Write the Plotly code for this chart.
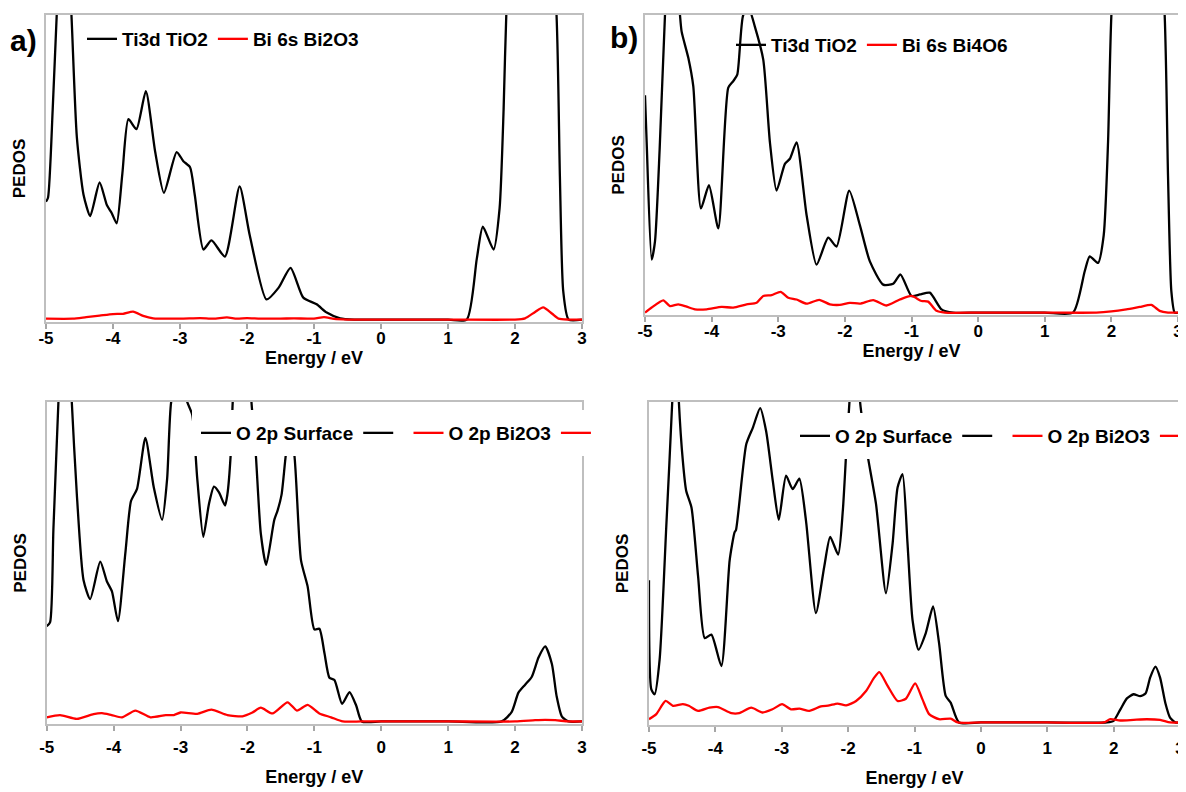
import plotly.graph_objects as go

# ---------------- data (normalised PEDOS) ----------------
TICK_VALS = [-5, -4, -3, -2, -1, 0, 1, 2, 3]
TICK_TEXT = ["-5", "-4", "-3", "-2", "-1", "0", "1", "2", "3"]

# panel a) top : Ti3d TiO2 / Bi 6s Bi2O3
a_ti_E = [-5.0, -4.97, -4.9, -4.84, -4.73, -4.62, -4.54, -4.44, -4.34, -4.2, -4.09, -4.02,
          -3.945, -3.86, -3.77, -3.65, -3.51, -3.37, -3.24, -3.05, -2.95, -2.85, -2.78, -2.65,
          -2.53, -2.33, -2.11, -1.96, -1.71, -1.53, -1.35, -1.16, -0.96, -0.81, -0.61, -0.4,
          0.0, 1.0, 1.28, 1.43, 1.52, 1.68, 1.77, 1.83, 1.87, 2.2, 2.62, 2.67, 2.72, 2.8, 3.0]
a_ti_v = [0.387, 0.40, 0.69, 1.0, 1.5, 1.0, 0.60, 0.41, 0.34, 0.45, 0.375, 0.35,
          0.316, 0.48, 0.658, 0.625, 0.75, 0.55, 0.416, 0.55, 0.52, 0.50, 0.41, 0.23,
          0.26, 0.207, 0.437, 0.278, 0.066, 0.104, 0.17, 0.072, 0.05, 0.023, 0.004, 0.0,
          0.0, 0.0, 0.0, 0.20, 0.305, 0.23, 0.365, 0.69, 1.0, 2.5, 1.0, 0.47, 0.093, 0.0, 0.0]

a_bi_E = [-5.0, -4.6, -4.4, -4.2, -4.0, -3.85, -3.7, -3.55, -3.4, -3.0, -2.7, -2.5, -2.3,
          -2.15, -2.0, -1.8, -1.5, -1.3, -1.0, -0.85, -0.7, -0.5, 0.0, 1.0, 2.0, 2.15, 2.3,
          2.42, 2.55, 2.65, 2.8, 3.0]
a_bi_v = [0.003, 0.003, 0.008, 0.013, 0.018, 0.019, 0.026, 0.012, 0.004, 0.003, 0.005, 0.003,
          0.007, 0.003, 0.005, 0.003, 0.003, 0.004, 0.003, 0.008, 0.002, 0.0, 0.0, 0.0, 0.0,
          0.004, 0.025, 0.04, 0.02, 0.003, 0.0, 0.0]

# panel b) top : Ti3d TiO2 / Bi 6s Bi4O6
b_ti_E = [-5.0, -4.975, -4.9, -4.85, -4.78, -4.70, -4.6, -4.475, -4.45, -4.35, -4.275, -4.16,
          -4.04, -3.90, -3.75, -3.675, -3.615, -3.525, -3.44, -3.35, -3.225, -3.125, -3.025,
          -2.90, -2.825, -2.725, -2.575, -2.425, -2.25, -2.125, -1.935, -1.775, -1.625, -1.425,
          -1.275, -1.165, -1.0, -0.875, -0.725, -0.55, -0.375, 0.0, 1.0, 1.425, 1.60, 1.675,
          1.80, 1.885, 1.95, 2.0, 2.4, 2.80, 2.85, 2.90, 2.95, 3.0]
b_ti_v = [0.73, 0.572, 0.178, 0.239, 0.55, 1.0, 1.4, 1.0, 0.944, 0.856, 0.76, 0.35,
          0.428, 0.283, 0.756, 0.778, 0.80, 1.0, 1.02, 0.96, 0.85, 0.572, 0.41,
          0.50, 0.517, 0.572, 0.328, 0.161, 0.252, 0.222, 0.41, 0.294, 0.172, 0.094,
          0.097, 0.128, 0.056, 0.061, 0.067, 0.011, 0.0, 0.0, 0.0, 0.0, 0.139, 0.189,
          0.167, 0.26, 0.572, 1.0, 2.5, 1.0, 0.46, 0.072, 0.0, 0.0]

b_bi_E = [-5.0, -4.9, -4.725, -4.625, -4.5, -4.375, -4.25, -4.075, -3.85, -3.675, -3.475,
          -3.325, -3.225, -3.10, -2.965, -2.85, -2.725, -2.575, -2.385, -2.225, -2.075, -1.925,
          -1.775, -1.575, -1.375, -1.175, -1.0, -0.85, -0.75, -0.625, -0.5, 0.0, 1.0, 1.775,
          2.0, 2.225, 2.425, 2.6, 2.725, 2.85, 3.0]
b_bi_v = [0.0, 0.017, 0.041, 0.022, 0.028, 0.02, 0.011, 0.011, 0.019, 0.017, 0.028,
          0.033, 0.056, 0.059, 0.07, 0.05, 0.044, 0.03, 0.043, 0.028, 0.026, 0.033,
          0.03, 0.042, 0.024, 0.044, 0.056, 0.039, 0.037, 0.006, 0.0, 0.0, 0.0, 0.0,
          0.004, 0.011, 0.019, 0.026, 0.006, 0.0, 0.0]

# panel a) bottom : O 2p Surface / O 2p Bi2O3
c_os_E = [-5.0, -4.95, -4.9, -4.825, -4.725, -4.625, -4.55, -4.45, -4.35, -4.20, -4.10, -4.025,
          -3.935, -3.825, -3.74, -3.65, -3.525, -3.40, -3.275, -3.20, -3.14, -3.02, -2.90,
          -2.825, -2.75, -2.66, -2.575, -2.50, -2.425, -2.335, -2.30, -2.25, -2.22, -2.08,
          -1.94, -1.875, -1.80, -1.72, -1.60, -1.55, -1.49, -1.425, -1.37, -1.30, -1.20, -1.10,
          -1.00, -0.925, -0.85, -0.775, -0.70, -0.585, -0.475, -0.375, -0.29, 0.0, 1.0, 1.8,
          1.95, 2.05, 2.15, 2.25, 2.35, 2.45, 2.55, 2.62, 2.7, 2.8, 3.0]
c_os_v = [0.298, 0.31, 0.6, 1.0, 1.5, 1.0, 0.712, 0.443, 0.383, 0.50, 0.438, 0.407,
          0.314, 0.526, 0.69, 0.728, 0.888, 0.733, 0.631, 0.76, 1.0, 1.1, 1.0,
          0.96, 0.76, 0.578, 0.681, 0.735, 0.717, 0.676, 0.71, 0.836, 1.0, 1.5,
          1.0, 0.836, 0.588, 0.49, 0.63, 0.66, 0.71, 0.836, 0.9, 0.836, 0.505, 0.422,
          0.288, 0.29, 0.215, 0.137, 0.13, 0.055, 0.092, 0.05, 0.0, 0.0, 0.0, 0.0,
          0.03, 0.09, 0.115, 0.14, 0.2, 0.235, 0.18, 0.08, 0.015, 0.0, 0.0]

c_ob_E = [-5.0, -4.8, -4.55, -4.3, -4.175, -4.03, -3.875, -3.675, -3.45, -3.22, -3.1, -3.0,
          -2.75, -2.54, -2.3, -2.075, -1.925, -1.80, -1.625, -1.40, -1.26, -1.10, -0.925,
          -0.75, -0.575, -0.3, 0.0, 1.0, 2.0, 2.3, 2.45, 2.6, 2.8, 3.0]
c_ob_v = [0.013, 0.02, 0.008, 0.023, 0.026, 0.02, 0.013, 0.034, 0.013, 0.02, 0.02, 0.028,
          0.024, 0.037, 0.02, 0.016, 0.028, 0.043, 0.025, 0.06, 0.034, 0.052, 0.025,
          0.013, 0.0, 0.0, 0.0, 0.0, 0.0, 0.004, 0.005, 0.004, 0.0, 0.0]

# panel b) bottom : O 2p Surface / O 2p Bi2O3
d_os_E = [-5.0, -4.965, -4.915, -4.84, -4.74, -4.65, -4.60, -4.55, -4.49, -4.44, -4.36, -4.26,
          -4.16, -4.06, -3.91, -3.785, -3.71, -3.69, -3.535, -3.435, -3.325, -3.235, -3.135,
          -3.045, -2.935, -2.835, -2.735, -2.635, -2.485, -2.36, -2.27, -2.15, -2.08, -2.03,
          -1.98, -1.9, -1.82, -1.71, -1.58, -1.43, -1.33, -1.255, -1.18, -1.105, -1.03, -0.94,
          -0.83, -0.72, -0.63, -0.53, -0.455, -0.33, 0.0, 1.0, 1.9, 2.0, 2.1, 2.2, 2.3, 2.4,
          2.48, 2.55, 2.63, 2.7, 2.78, 2.85, 2.93, 3.0]
d_os_v = [0.444, 0.103, 0.088, 0.196, 0.61, 1.0, 1.3, 1.0, 0.816, 0.723, 0.671, 0.455,
          0.263, 0.274, 0.176, 0.506, 0.594, 0.60, 0.868, 0.92, 0.981, 0.909, 0.754,
          0.632, 0.77, 0.728, 0.761, 0.63, 0.341, 0.486, 0.579, 0.524, 0.661, 0.838,
          1.0, 1.3, 1.0, 0.838, 0.682, 0.403, 0.558, 0.733, 0.775, 0.558, 0.32, 0.227,
          0.279, 0.362, 0.248, 0.083, 0.062, 0.0, 0.0, 0.0, 0.0, 0.005, 0.04, 0.075, 0.088, 0.082,
          0.09, 0.14, 0.174, 0.14, 0.06, 0.015, 0.0, 0.0]

d_ob_E = [-5.0, -4.89, -4.75, -4.64, -4.49, -4.40, -4.26, -4.09, -3.96, -3.76, -3.64, -3.46,
          -3.29, -3.14, -2.995, -2.86, -2.735, -2.585, -2.41, -2.285, -2.16, -2.03, -1.88,
          -1.73, -1.61, -1.53, -1.405, -1.255, -1.13, -0.99, -0.88, -0.78, -0.63, -0.455,
          -0.35, 0.0, 1.0, 1.85, 1.95, 2.1, 2.3, 2.5, 2.7, 2.85, 3.0]
d_ob_v = [0.01, 0.026, 0.067, 0.052, 0.057, 0.052, 0.036, 0.046, 0.048, 0.029, 0.029, 0.046,
          0.031, 0.041, 0.057, 0.041, 0.043, 0.036, 0.05, 0.053, 0.059, 0.053, 0.067,
          0.098, 0.139, 0.157, 0.114, 0.067, 0.074, 0.122, 0.072, 0.026, 0.01, 0.012,
          0.0, 0.0, 0.0, 0.0, 0.01, 0.006, 0.008, 0.01, 0.008, 0.0, 0.0]

# ---------------- figure ----------------
OFF = 8                      # page body margin of the html page
W, H = 1186 - OFF, 792 - OFF
FONT = "Liberation Sans, Arial, sans-serif"
BLACK, RED = "#000000", "#ff0000"
LW = 2.3


def px_x(p):
    return (p - OFF) / W


def px_y(p):
    return 1 - (p - OFF) / H


fig = go.Figure()


def line(x, y, name, color, ax, legend, show=True):
    fig.add_trace(go.Scatter(
        x=x, y=y, name=name, mode="lines",
        line=dict(color=color, width=LW, shape="spline", smoothing=0.6),
        xaxis="x" + ax, yaxis="y" + ax, legend=legend, showlegend=show,
        hoverinfo="skip"))


line(a_ti_E, a_ti_v, "Ti3d TiO2", BLACK, "", "legend")
line(a_bi_E, a_bi_v, "Bi 6s Bi2O3", RED, "", "legend")
line(b_ti_E, b_ti_v, "Ti3d TiO2", BLACK, "2", "legend2")
line(b_bi_E, b_bi_v, "Bi 6s Bi4O6", RED, "2", "legend2")
line(c_os_E, c_os_v, "O 2p Surface", BLACK, "3", "legend3")
line([None], [None], " ", BLACK, "3", "legend3")
line(c_ob_E, c_ob_v, "O 2p Bi2O3", RED, "3", "legend3")
line([None], [None], " ", RED, "3", "legend3")
line(d_os_E, d_os_v, "O 2p Surface", BLACK, "4", "legend4")
line([None], [None], " ", BLACK, "4", "legend4")
line(d_ob_E, d_ob_v, "O 2p Bi2O3", RED, "4", "legend4")
line([None], [None], " ", RED, "4", "legend4")

tickfont = dict(family=FONT, size=17, color="black", weight="bold")
titlefont = dict(family=FONT, size=18, color="black", weight="bold")
legfont = dict(family=FONT, size=19, color="black", weight="bold")


def xaxis(domain, anchor, standoff_lbl, standoff_title):
    return dict(domain=domain, anchor=anchor, range=[-5, 3], automargin=False,
                tickvals=TICK_VALS, ticktext=TICK_TEXT,
                ticks="outside", ticklen=5, tickwidth=1.5, tickcolor="#a6a6a6",
                ticklabelstandoff=standoff_lbl,
                showline=True, linecolor="#bfbfbf", linewidth=1.5, mirror=True,
                showgrid=False, zeroline=False, tickfont=tickfont,
                title=dict(text="Energy / eV", font=titlefont, standoff=standoff_title))


def yaxis(domain, anchor):
    return dict(domain=domain, anchor=anchor, range=[-0.008, 1.0], automargin=False,
                showticklabels=False, ticks="",
                showline=True, linecolor="#bfbfbf", linewidth=1.5, mirror=True,
                showgrid=False, zeroline=False,
                title=dict(text="PEDOS", font=dict(family=FONT, size=17, color="black",
                                                   weight="bold"), standoff=14))


def legend(x, y, bg):
    return dict(x=x, y=y, xanchor="left", yanchor="middle", orientation="h",
                bgcolor=bg, bordercolor=bg, borderwidth=4, font=legfont,
                itemwidth=30, tracegroupgap=0)


fig.update_layout(
    width=W, height=H, margin=dict(l=0, r=0, t=0, b=0, autoexpand=False),
    paper_bgcolor="white", plot_bgcolor="white",
    xaxis=xaxis([px_x(46), px_x(582)], "y", -5, 0),
    yaxis=yaxis([px_y(322), px_y(15)], "x"),
    xaxis2=xaxis([px_x(645), px_x(1178)], "y2", -5, 0),
    yaxis2=yaxis([px_y(315), px_y(15)], "x2"),
    xaxis3=xaxis([px_x(46.7), px_x(582)], "y3", 2, 14),
    yaxis3=yaxis([px_y(724), px_y(402)], "x3"),
    xaxis4=xaxis([px_x(649), px_x(1180)], "y4", 2, 14),
    yaxis4=yaxis([px_y(725), px_y(402)], "x4"),
    legend=legend(px_x(78), px_y(39), "rgba(0,0,0,0)"),
    legend2=legend(px_x(727), px_y(45), "rgba(0,0,0,0)"),
    legend3=legend(px_x(192), px_y(433), "white"),
    legend4=legend(px_x(791), px_y(436), "white"),
    showlegend=True,
    annotations=[
        dict(text="a)", x=px_x(23), y=px_y(40), xref="paper", yref="paper",
             xanchor="center", yanchor="middle", showarrow=False,
             font=dict(family=FONT, size=30, color="black", weight="bold")),
        dict(text="b)", x=px_x(624), y=px_y(38), xref="paper", yref="paper",
             xanchor="center", yanchor="middle", showarrow=False,
             font=dict(family=FONT, size=30, color="black", weight="bold")),
    ],
)

fig.write_html("out.html")
